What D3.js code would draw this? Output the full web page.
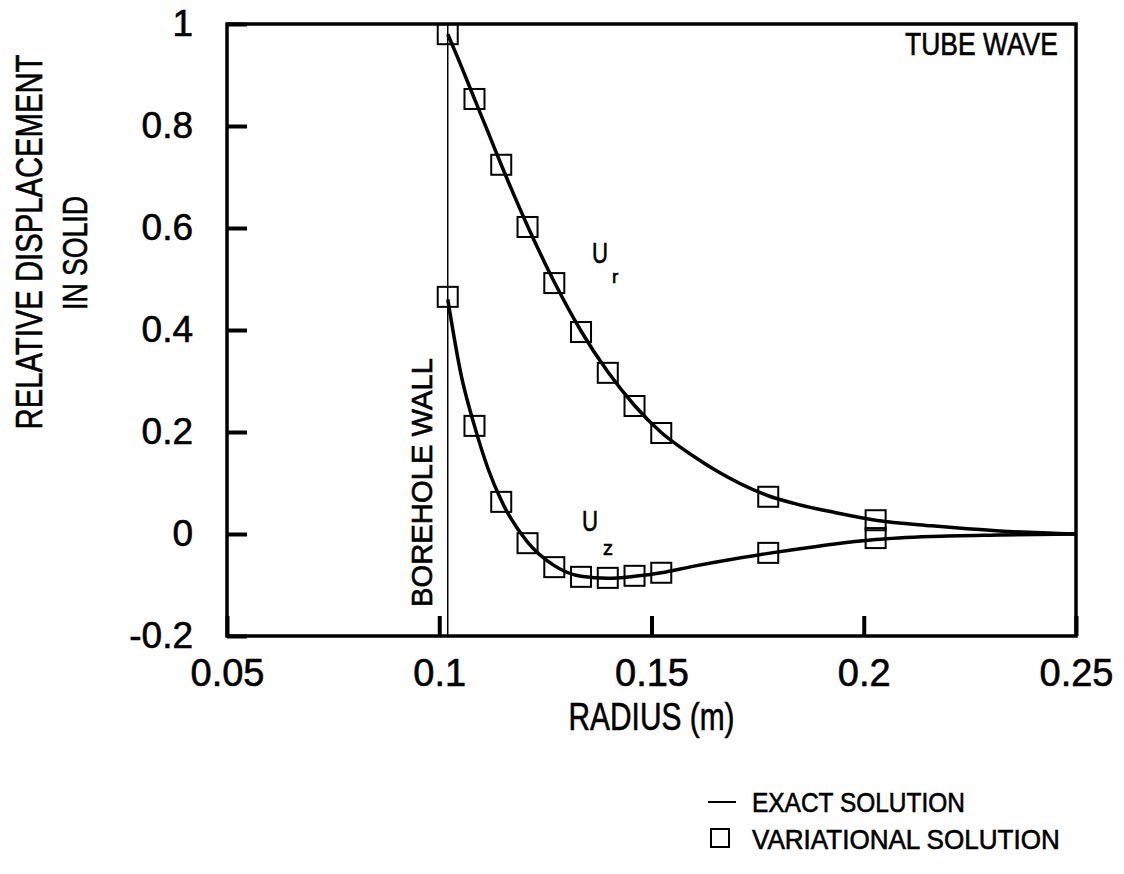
<!DOCTYPE html>
<html>
<head>
<meta charset="utf-8">
<script src="https://cdn.jsdelivr.net/npm/d3@7"></script>
<style>
  body { margin: 0; background: #fff; }
  svg { display: block; font-family: "Liberation Sans", Arial, Helvetica, sans-serif; }
  svg text { fill: #000; stroke: #000; stroke-width: 0.6px; }
</style>
</head>
<body>
<div id="graph"></div>
<script>
// tick values on both axes
const xTicks = [0.05, 0.1, 0.15, 0.2, 0.25];
const yTicks = [-0.2, 0, 0.2, 0.4, 0.6, 0.8, 1];

// borehole wall radius (m)
const wallR = 0.102;

// exact solution
const exactR  = [0.102, 0.1052, 0.1083, 0.1115, 0.1146, 0.1208, 0.1271, 0.1334, 0.1397, 0.146, 0.1523, 0.16, 0.1653, 0.1775, 0.185, 0.1927, 0.2028, 0.216, 0.232, 0.25];
const exactUr = [0.98, 0.917, 0.853, 0.788, 0.724, 0.604, 0.494, 0.398, 0.318, 0.252, 0.199, 0.152, 0.124, 0.075, 0.057, 0.043, 0.027, 0.016, 0.006, 0.0];
const exactUz = [0.46, 0.31, 0.212, 0.128, 0.066, -0.016, -0.062, -0.083, -0.087, -0.083, -0.076, -0.063, -0.055, -0.038, -0.029, -0.02, -0.011, -0.005, -0.002, 0.0];

// variational solution, the square markers
const varR  = [0.102, 0.1083, 0.1146, 0.1208, 0.1271, 0.1334, 0.1397, 0.146, 0.1523, 0.1775, 0.2028];
const varUr = [0.98, 0.853, 0.724, 0.602, 0.492, 0.396, 0.316, 0.251, 0.198, 0.073, 0.027];
const varUz = [0.465, 0.212, 0.063, -0.018, -0.065, -0.084, -0.086, -0.082, -0.076, -0.037, -0.008];

function drawChart(id) {
  const w = 1124;
  const h = 874;
  const plot = { left: 227, right: 1076, top: 24, bottom: 636 };

  const svg = d3
    .select(`#${id}`)
    .append("svg")
    .attr("width", w)
    .attr("height", h)
    .attr("viewBox", [0, 0, w, h]);

  const x = d3.scaleLinear().domain([0.05, 0.25]).range([plot.left, plot.right]);
  const y = d3.scaleLinear().domain([-0.2, 1]).range([plot.bottom, plot.top]);

  const fmt = (d) => String(d);

  // axes with inward ticks
  const yAxis = svg
    .append("g")
    .attr("transform", `translate(${plot.left},0)`)
    .call(d3.axisLeft(y).tickValues(yTicks).tickFormat(fmt).tickSizeInner(-20).tickSizeOuter(0).tickPadding(34));
  yAxis.select(".domain").remove();
  yAxis.selectAll(".tick line").attr("stroke", "#000").attr("stroke-width", 4);
  yAxis.selectAll("text").attr("font-size", 37).attr("font-family", null);

  const xAxis = svg
    .append("g")
    .attr("transform", `translate(0,${plot.bottom})`)
    .call(d3.axisBottom(x).tickValues(xTicks).tickFormat(fmt).tickSizeInner(-20).tickSizeOuter(0).tickPadding(23));
  xAxis.select(".domain").remove();
  xAxis.selectAll(".tick line").attr("stroke", "#000").attr("stroke-width", 4);
  xAxis.selectAll("text").attr("font-size", 38).attr("font-family", null);

  // frame
  svg
    .append("rect")
    .attr("x", plot.left)
    .attr("y", plot.top)
    .attr("width", plot.right - plot.left)
    .attr("height", plot.bottom - plot.top)
    .attr("fill", "none")
    .attr("stroke", "#000")
    .attr("stroke-width", 3.5);

  // borehole wall
  svg
    .append("line")
    .attr("x1", x(wallR))
    .attr("x2", x(wallR))
    .attr("y1", plot.top)
    .attr("y2", plot.bottom)
    .attr("stroke", "#000")
    .attr("stroke-width", 1.5);

  // squeeze a text to a given length with a horizontal scale, so its box stays honest
  const narrow = (sel, len, tf) => {
    const natural = sel.node().getComputedTextLength();
    sel.attr("transform", `${tf} scale(${len / natural},1)`);
  };

  const wallLabel = svg
    .append("text")
    .attr("text-anchor", "middle")
    .attr("dy", "0.36em")
    .attr("font-size", 29)
    .text("BOREHOLE WALL");
  narrow(wallLabel, 249, `translate(${x(wallR) - 26},${(358 + 607) / 2}) rotate(-90)`);

  // exact curves
  const line = d3
    .line()
    .x((d) => x(d[0]))
    .y((d) => y(d[1]))
    .curve(d3.curveMonotoneX);

  [exactUr, exactUz].forEach((vals) => {
    svg
      .append("path")
      .datum(exactR.map((r, i) => [r, vals[i]]))
      .attr("d", line)
      .attr("fill", "none")
      .attr("stroke", "#000")
      .attr("stroke-width", 3.5);
  });

  // variational markers
  const box = 20;
  [varUr, varUz].forEach((vals) => {
    svg
      .append("g")
      .selectAll("rect")
      .data(varR.map((r, i) => [r, vals[i]]))
      .enter()
      .append("rect")
      .attr("x", (d) => x(d[0]) - box / 2)
      .attr("y", (d) => y(d[1]) - box / 2)
      .attr("width", box)
      .attr("height", box)
      .attr("fill", "none")
      .attr("stroke", "#000")
      .attr("stroke-width", 2);
  });

  // curve labels
  const ur = svg.append("text").attr("x", 592).attr("y", 263).attr("font-size", 29);
  ur.append("tspan").text("U").attr("textLength", 16).attr("lengthAdjust", "spacingAndGlyphs");
  ur.append("tspan").text("r").attr("font-size", 19).attr("dx", 4).attr("dy", 20);

  const uz = svg.append("text").attr("x", 582).attr("y", 531).attr("font-size", 29);
  uz.append("tspan").text("U").attr("textLength", 16).attr("lengthAdjust", "spacingAndGlyphs");
  uz.append("tspan").text("z").attr("font-size", 20).attr("dx", 5).attr("dy", 24);

  // TUBE WAVE
  const tube = svg.append("text").attr("font-size", 31).text("TUBE WAVE");
  narrow(tube, 153, "translate(905,55)");

  // axis titles
  const xTitle = svg
    .append("text")
    .attr("text-anchor", "middle")
    .attr("font-size", 38)
    .text("RADIUS (m)");
  narrow(xTitle, 166, `translate(${(plot.left + plot.right) / 2},730)`);

  const yTitle1 = svg
    .append("text")
    .attr("text-anchor", "middle")
    .attr("font-size", 36)
    .text("RELATIVE DISPLACEMENT");
  narrow(yTitle1, 375, "translate(42,242) rotate(-90)");

  const yTitle2 = svg
    .append("text")
    .attr("text-anchor", "middle")
    .attr("font-size", 36)
    .text("IN SOLID");
  narrow(yTitle2, 114, "translate(87,253) rotate(-90)");

  // legend
  const legend = svg.append("g").attr("class", "legend");
  legend
    .append("line")
    .attr("x1", 708)
    .attr("x2", 736)
    .attr("y1", 802)
    .attr("y2", 802)
    .attr("stroke", "#000")
    .attr("stroke-width", 2);
  legend
    .append("rect")
    .attr("x", 711)
    .attr("y", 829)
    .attr("width", 18)
    .attr("height", 18)
    .attr("fill", "none")
    .attr("stroke", "#000")
    .attr("stroke-width", 2);
  const leg1 = legend.append("text").attr("font-size", 27).text("EXACT SOLUTION");
  narrow(leg1, 213, "translate(752,812)");
  const leg2 = legend.append("text").attr("font-size", 27).text("VARIATIONAL SOLUTION");
  narrow(leg2, 308, "translate(752,849)");
}

document.addEventListener("DOMContentLoaded", function () {
  drawChart("graph");
});
</script>
</body>
</html>
